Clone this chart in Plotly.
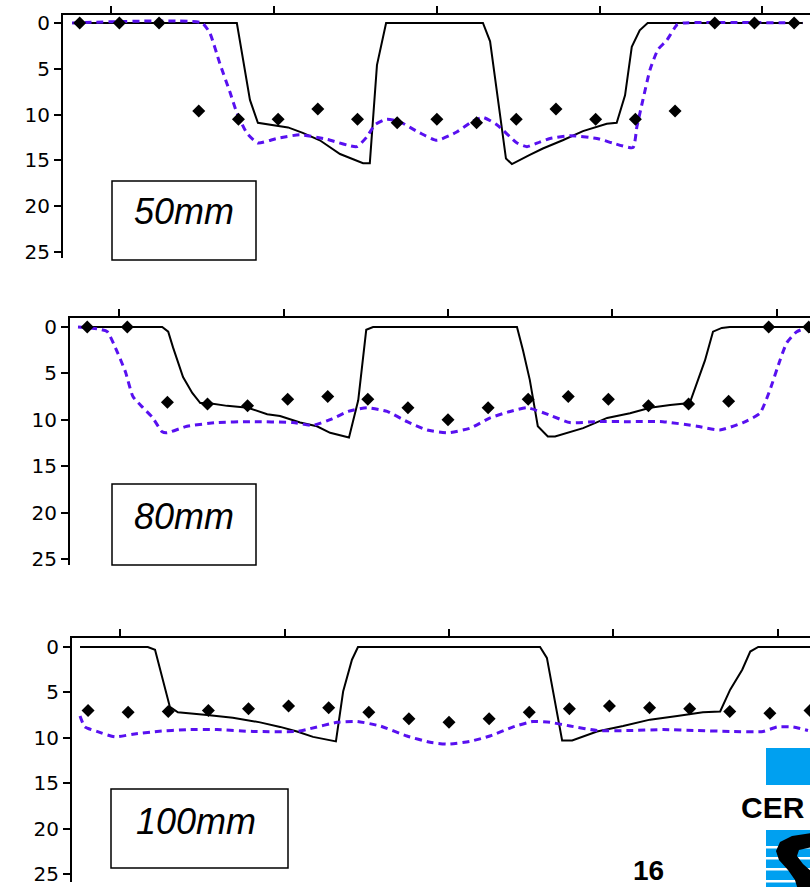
import plotly.graph_objects as go

# ---- shared scan positions (one diamond per step) ----
scan_pos = [-9, -8, -7, -6, -5, -4, -3, -2, -1, 0, 1, 2, 3, 4, 5, 6, 7, 8, 9]
top_ticks = [-8.2, -4.1, 0, 4.1, 8.2]
depth_ticks = [0, 5, 10, 15, 20, 25]
depth_labels = ["0", "5", "10", "15", "20", "25"]

# ---- 50mm ----
solid50_x = [-9.19, -5.04, -4.71, -4.51, -3.75, -3.38, -2.95, -2.44, -1.86, -1.69, -1.51, -1.28,
             1.16, 1.34, 1.74, 1.89, 2.34, 2.67, 3.17, 3.68, 4.28, 4.53, 4.74, 4.91, 5.11, 5.31, 9.22]
solid50_y = [0, 0, 8.4, 10.9, 11.4, 12.0, 12.8, 14.3, 15.3, 15.3, 4.6, 0,
             0, 2.0, 14.8, 15.4, 14.4, 13.7, 12.8, 11.8, 11.0, 10.9, 7.9, 2.6, 0.8, 0, 0]
dash50_x = [-9.19, -5.92, -5.72, -5.47, -5.21, -5.04, -4.79, -4.51, -4.03, -3.45, -2.77, -2.02,
            -1.76, -1.56, -1.26, -0.93, -0.43, 0, 0.50, 0.91, 1.16, 1.51, 2.02, 2.27, 2.59, 2.85,
            3.35, 4.03, 4.43, 4.94, 5.04, 5.19, 5.37, 5.57, 5.79, 6.05, 6.20, 9.22]
dash50_y = [0, 0, 1.1, 4.4, 7.6, 9.8, 12.0, 13.1, 12.6, 12.2, 12.7, 13.5,
            12.4, 11.1, 10.5, 10.8, 12.0, 12.8, 11.9, 10.7, 10.3, 11.1, 13.1, 13.5, 13.0, 12.6,
            12.3, 12.6, 13.1, 13.6, 11.3, 8.4, 5.1, 2.9, 1.9, 0.2, 0, 0]
pts50 = [0, 0, 0, 9.6, 10.5, 10.5, 9.4, 10.5, 10.9, 10.5, 10.9, 10.5, 9.4, 10.5, 10.5, 9.6, 0, 0, 0]

# ---- 80mm ----
solid80_x = [-9.23, -7.13, -6.98, -6.86, -6.61, -6.38, -6.18, -5.99, -5.51, -4.99, -4.51, -4.19,
             -3.69, -3.27, -2.94, -2.47, -2.24, -2.04, -1.87, 1.72, 1.87, 2.04, 2.24, 2.49, 2.67,
             3.37, 3.97, 4.54, 5.04, 5.54, 6.03, 6.41, 6.61, 6.83, 7.03, 9.1]
solid80_y = [0, 0, 0.5, 2.2, 5.4, 7.1, 8.2, 8.2, 8.5, 8.7, 9.4, 9.6,
             10.3, 10.7, 11.4, 11.9, 7.9, 0.3, 0, 0, 2.5, 5.7, 10.7, 11.8, 11.8,
             10.9, 9.8, 9.3, 8.7, 8.4, 8.2, 3.6, 0.5, 0.1, 0, 0]
dash80_x = [-9.23, -8.75, -8.50, -8.30, -8.05, -7.86, -7.61, -7.38, -7.13, -7.01, -6.51, -5.76,
            -4.94, -3.87, -3.37, -2.89, -2.49, -2.02, -1.52, -1.02, -0.52, 0, 0.55, 1.05, 1.55,
            1.97, 2.54, 3.04, 3.72, 4.54, 5.36, 6.21, 6.78, 7.36, 7.78, 8.03, 8.28, 8.45, 8.70,
            8.95, 9.2]
dash80_y = [0, 0.2, 0.5, 2.2, 4.8, 7.5, 8.7, 9.7, 11.3, 11.4, 10.7, 10.3,
            10.2, 10.3, 10.6, 9.9, 9.1, 8.7, 9.1, 10.2, 11.1, 11.4, 10.9, 9.8, 9.1,
            8.7, 9.5, 10.3, 10.2, 10.2, 10.2, 10.7, 11.1, 10.3, 9.3, 6.8, 3.6, 1.7, 0.5,
            0.1, 0]
pts80 = [0, 0, 8.1, 8.3, 8.5, 7.8, 7.5, 7.8, 8.7, 10.0, 8.7, 7.8, 7.5, 7.8, 8.5, 8.3, 8.0, 0, 0]

# ---- 100mm ----
solid100_x = [-9.20, -7.51, -7.33, -7.13, -6.96, -6.76, -6.46, -6.03, -5.39, -4.71, -4.21, -3.79,
              -3.39, -2.82, -2.64, -2.42, -2.27, 2.27, 2.44, 2.82, 3.07, 3.69, 4.34, 5.01, 5.69,
              6.33, 6.76, 7.01, 7.31, 7.51, 7.71, 9.1]
solid100_y = [0, 0, 0.3, 3.6, 6.6, 7.2, 7.3, 7.5, 7.8, 8.3, 8.8, 9.3,
              9.9, 10.4, 4.9, 1.4, 0, 0, 1.2, 10.3, 10.3, 9.3, 8.7, 8.0, 7.6,
              7.2, 7.1, 4.7, 2.5, 0.5, 0, 0]
dash100_x = [-9.20, -9.08, -8.78, -8.33, -7.88, -7.28, -6.53, -5.79, -4.89, -3.79, -3.47, -2.79,
             -2.29, -1.72, -1.05, -0.47, -0.02, 0.52, 1.02, 1.60, 2.09, 2.52, 3.02, 3.69, 4.51,
             5.34, 6.18, 7.01, 7.83, 8.18, 8.58, 8.95]
dash100_y = [7.6, 8.8, 9.3, 9.9, 9.6, 9.3, 9.1, 9.1, 9.3, 9.3, 9.0, 8.3,
             8.2, 8.7, 9.8, 10.5, 10.7, 10.4, 9.8, 8.8, 8.2, 8.3, 8.7, 9.2, 9.2,
             9.1, 9.2, 9.3, 9.3, 8.8, 8.8, 9.2]
pts100 = [7.0, 7.2, 7.1, 7.0, 6.8, 6.5, 6.7, 7.2, 7.9, 8.3, 7.9, 7.2, 6.8, 6.5, 6.7, 6.8, 7.1, 7.3, 7.0]

panel_labels = ["50mm", "80mm", "100mm"]

W, H = 810, 887
BLACK = "black"
PURPLE = "rgb(88,16,240)"
BLUE = "rgb(0,160,240)"


def px(x):
    return x / W


def py(y):
    return 1 - y / H


panels = [
    dict(sx=solid50_x, sy=solid50_y, dx=dash50_x, dy=dash50_y, pts=pts50,
         xdom=(63, W), xrng=(-9.42, 9.40), ydom=(15, 258), yrng=(25.65, -0.87),
         box=(112, 181, 256, 260), lab=(184, 212)),
    dict(sx=solid80_x, sy=solid80_y, dx=dash80_x, dy=dash80_y, pts=pts80,
         xdom=(70, W), xrng=(-9.43, 9.03), ydom=(318, 565), yrng=(25.65, -0.97),
         box=(112, 484, 256, 565), lab=(184, 516)),
    dict(sx=solid100_x, sy=solid100_y, dx=dash100_x, dy=dash100_y, pts=pts100,
         xdom=(72, W), xrng=(-9.40, 9.00), ydom=(638, 882), yrng=(25.88, -0.99),
         box=(111, 789, 288, 868), lab=(196, 821)),
]

fig = go.Figure()
layout = dict(
    width=W, height=H, margin=dict(l=0, r=0, t=0, b=0, autoexpand=False),
    paper_bgcolor="white", plot_bgcolor="white", showlegend=False,
    shapes=[], annotations=[],
)

for i, p in enumerate(panels):
    suffix = "" if i == 0 else str(i + 1)
    xa, ya = "x" + suffix, "y" + suffix
    fig.add_trace(go.Scatter(x=p["sx"], y=p["sy"], mode="lines", xaxis=xa, yaxis=ya,
                             line=dict(color=BLACK, width=2)))
    fig.add_trace(go.Scatter(x=p["dx"], y=p["dy"], mode="lines", xaxis=xa, yaxis=ya,
                             line=dict(color=PURPLE, width=3, dash="7px,5px",
                                       shape="spline", smoothing=0.5)))
    fig.add_trace(go.Scatter(x=scan_pos, y=p["pts"], mode="markers", xaxis=xa, yaxis=ya,
                             marker=dict(symbol="diamond", size=10, color=BLACK,
                                         line=dict(width=0))))
    layout["xaxis" + suffix] = dict(
        domain=[px(p["xdom"][0]), px(p["xdom"][1])], range=list(p["xrng"]),
        anchor=ya, side="top", showline=True, linecolor=BLACK, linewidth=2,
        ticks="outside", ticklen=7, tickwidth=2, tickcolor=BLACK,
        tickvals=top_ticks, showticklabels=False, showgrid=False, zeroline=False,
        automargin=False,
    )
    layout["yaxis" + suffix] = dict(
        domain=[py(p["ydom"][1]), py(p["ydom"][0])], range=list(p["yrng"]),
        anchor=xa, showline=True, linecolor=BLACK, linewidth=2,
        ticks="outside", ticklen=7, tickwidth=2, tickcolor=BLACK,
        tickvals=depth_ticks, ticktext=depth_labels, ticklabeloverflow="allow",
        tickfont=dict(family="DejaVu Sans, sans-serif", size=20, color=BLACK),
        showgrid=False, zeroline=False, automargin=False,
    )
    x0, y0, x1, y1 = p["box"]
    layout["shapes"].append(dict(type="rect", xref="paper", yref="paper",
                                 x0=px(x0), x1=px(x1), y0=py(y1), y1=py(y0),
                                 line=dict(color=BLACK, width=1.5), fillcolor="white"))
    layout["annotations"].append(dict(xref="paper", yref="paper", x=px(p["lab"][0]),
                                      y=py(p["lab"][1]), xanchor="center", yanchor="middle",
                                      text="<i>%s</i>" % panel_labels[i], showarrow=False,
                                      font=dict(family="Liberation Sans, Arial, sans-serif",
                                                size=36, color=BLACK)))

# page number
layout["annotations"].append(dict(xref="paper", yref="paper", x=px(648), y=py(853),
                                  xanchor="center", yanchor="top", text="<b>16</b>",
                                  showarrow=False,
                                  font=dict(family="Liberation Sans, Arial, sans-serif",
                                            size=28, color=BLACK)))

# corner logo: blue blocks, lettering and swoosh
layout["shapes"].append(dict(type="rect", xref="paper", yref="paper", x0=px(766), x1=1.02,
                             y0=py(785), y1=py(748), fillcolor=BLUE, line=dict(width=0)))
layout["shapes"].append(dict(type="rect", xref="paper", yref="paper", x0=px(766), x1=1.02,
                             y0=-0.02, y1=py(830), fillcolor=BLUE, line=dict(width=0)))
for sy in [846, 857, 868, 880]:
    layout["shapes"].append(dict(type="rect", xref="paper", yref="paper", x0=px(766), x1=1.02,
                                 y0=py(sy + 2.5), y1=py(sy), fillcolor="white",
                                 line=dict(width=0)))
swoosh = [(812, 833), (792, 836), (780, 842), (776, 851), (779, 860), (788, 870), (795, 880),
          (798, 890), (812, 890), (812, 872), (803, 864), (797, 856), (799, 850), (812, 847)]
path = "M " + " L ".join("%.5f,%.5f" % (px(a), py(b)) for a, b in swoosh) + " Z"
layout["shapes"].append(dict(type="path", xref="paper", yref="paper", path=path,
                             fillcolor=BLACK, line=dict(width=0)))
layout["annotations"].append(dict(xref="paper", yref="paper", x=px(739), y=py(807),
                                  xanchor="left", yanchor="middle", text="<b>CER</b>",
                                  showarrow=False,
                                  font=dict(family="Liberation Sans, Arial, sans-serif",
                                            size=30, color=BLACK)))

fig.update_layout(**layout)
fig.write_html("out.html")
